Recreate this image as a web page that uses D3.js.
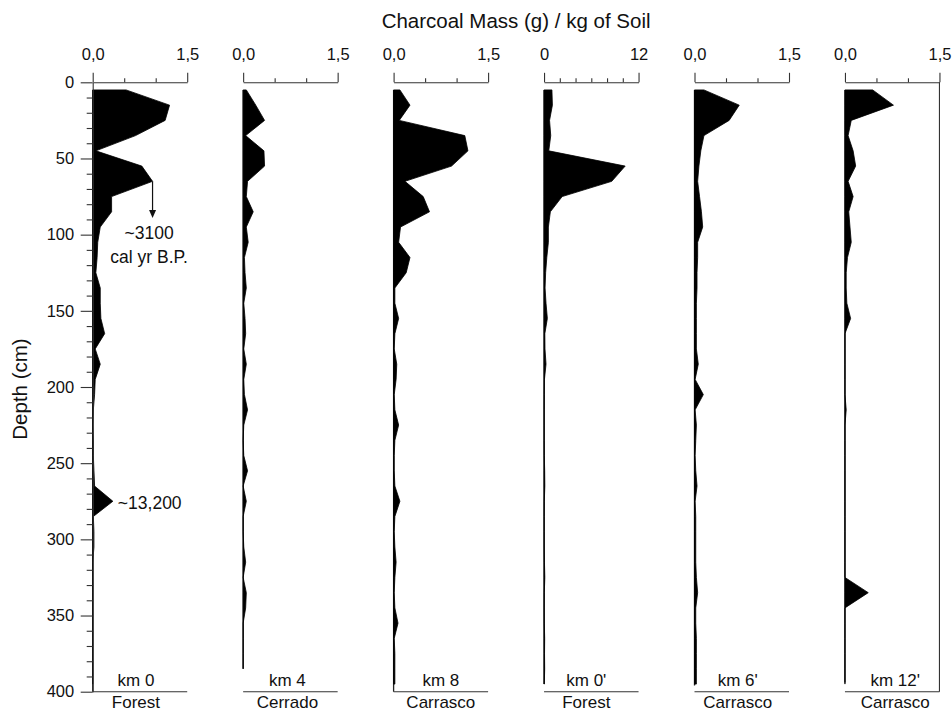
<!DOCTYPE html>
<html>
<head>
<meta charset="utf-8">
<script src="https://cdn.jsdelivr.net/npm/d3@7"></script>
<style>
  body { margin: 0; background: #fff; }
  svg { display: block; font-family: "Liberation Sans", Arial, sans-serif; }
</style>
</head>
<body>
<svg id="chart" width="952" height="711"></svg>
<script>
// Sample mid-depths (cm) of the 10 cm soil intervals
const sampleDepth = [5, 15, 25, 35, 45, 55, 65, 75, 85, 95,
  105, 115, 125, 135, 145, 155, 165, 175, 185, 195,
  205, 215, 225, 235, 245, 255, 265, 275, 285, 295,
  305, 315, 325, 335, 345, 355, 365, 375, 385, 395];

// Charcoal mass (g per kg of soil) for each core, top to bottom
const km0Forest = [0.53, 1.22, 1.15, 0.68, 0.05, 0.78, 0.95, 0.30, 0.30, 0.12,
  0.08, 0.07, 0.05, 0.12, 0.12, 0.13, 0.19, 0.04, 0.12, 0.04,
  0.03, 0.01, 0.00, 0.01, 0.01, 0.02, 0.03, 0.32, 0.01, 0.02,
  0.02, 0.00, 0.00, 0.00, 0.00, 0.00, 0.00, 0.00, 0.00, 0.00];
const km4Cerrado = [0.05, 0.20, 0.34, 0.04, 0.33, 0.34, 0.07, 0.05, 0.16, 0.05,
  0.08, 0.02, 0.03, 0.05, 0.01, 0.03, 0.04, 0.01, 0.05, 0.01,
  0.02, 0.07, 0.01, 0.00, 0.01, 0.07, 0.00, 0.05, 0.00, 0.00,
  0.01, 0.04, 0.00, 0.05, 0.04, 0.00, 0.00, 0.00, 0.00];
const km8Carrasco = [0.10, 0.26, 0.09, 1.13, 1.18, 0.92, 0.18, 0.47, 0.57, 0.11,
  0.08, 0.26, 0.20, 0.02, 0.02, 0.08, 0.02, 0.01, 0.05, 0.04,
  0.01, 0.02, 0.08, 0.02, 0.01, 0.01, 0.02, 0.10, 0.02, 0.01,
  0.02, 0.04, 0.02, 0.01, 0.02, 0.07, 0.01, 0.02, 0.02, 0.02];
const km0pForest = [1.00, 1.06, 0.70, 0.85, 0.60, 10.3, 8.6, 2.3, 0.80, 0.55,
  0.55, 0.35, 0.20, 0.13, 0.25, 0.42, 0.10, 0.12, 0.25, 0.05,
  0.03, 0.02, 0.02, 0.02, 0.03, 0.08, 0.10, 0.03, 0.02, 0.02,
  0.02, 0.05, 0.10, 0.03, 0.02, 0.03, 0.08, 0.06, 0.08, 0.03];
const km6pCarrasco = [0.15, 0.71, 0.55, 0.15, 0.10, 0.07, 0.05, 0.08, 0.11, 0.13,
  0.05, 0.05, 0.04, 0.04, 0.03, 0.03, 0.03, 0.03, 0.06, 0.01,
  0.14, 0.01, 0.03, 0.02, 0.01, 0.02, 0.04, 0.01, 0.02, 0.02,
  0.02, 0.02, 0.03, 0.05, 0.02, 0.02, 0.03, 0.03, 0.03, 0.03];
const km12pCarrasco = [0.44, 0.77, 0.10, 0.05, 0.13, 0.17, 0.05, 0.13, 0.06, 0.08,
  0.10, 0.04, 0.02, 0.02, 0.03, 0.09, 0.00, 0.00, 0.00, 0.00,
  0.00, 0.02, 0.00, 0.00, 0.00, 0.00, 0.00, 0.00, 0.00, 0.00,
  0.00, 0.00, 0.00, 0.37, 0.00, 0.00, 0.00, 0.00, 0.00, 0.00];

// Site names, vegetation and core bottoms (cm)
const siteLabels = ["km 0", "km 4", "km 8", "km 0'", "km 6'", "km 12'"];
const vegetation = ["Forest", "Cerrado", "Carrasco", "Forest", "Carrasco", "Carrasco"];
const coreBottom = [400, 385, 400, 395, 396, 394];
const seriesValues = [km0Forest, km4Cerrado, km8Carrasco, km0pForest, km6pCarrasco, km12pCarrasco];

// Scale ticks
const massMax = [1.5, 1.5, 1.5, 12, 1.5, 1.5];
const majorTicksSmall = [0, 1.5];
const minorTicksSmall = [0.5, 1.0];
const majorTicksLarge = [0, 12];
const minorTicksLarge = [2, 4, 6, 8, 10];
const depthMajorTicks = [0, 50, 100, 150, 200, 250, 300, 350, 400];
const depthMinorTicks = [10, 20, 30, 40, 60, 70, 80, 90, 110, 120, 130, 140, 160, 170, 180, 190,
  210, 220, 230, 240, 260, 270, 280, 290, 310, 320, 330, 340, 360, 370, 380, 390];

// Dated horizons
const dateAnnotations = [
  { core: 0, depth: 65, value: 0.95, lines: ["~3100", "cal yr B.P."], arrowTo: 89 },
  { core: 0, depth: 275, value: 0.32, lines: ["~13,200"] }
];

// ---- layout ----
const W = 952, H = 711;
const plotLeft = 92.7, panelStep = 150.45, panelW = 94.5;
const yTop = 82.3, yBottom = 691.7;
const ink = "#111", axisInk = "#333";

const svg = d3.select("#chart");
const y = d3.scaleLinear().domain([0, 400]).range([yTop, yBottom]);

const commaLocale = d3.formatLocale({ decimal: ",", thousands: ".", grouping: [3], currency: ["", ""] });
const fmtSmall = commaLocale.format(".1f");
const fmtLarge = d3.format("d");

function styleAxis(g, fontSize) {
  g.attr("font-family", null).attr("font-size", null);
  g.selectAll("path, line").attr("stroke", axisInk).attr("stroke-width", 1.1);
  g.selectAll("text").attr("fill", ink).style("font-size", fontSize + "px");
}

const labelShift = [-4, -3, 0, -5, -4, 3];
const panels = seriesValues.map((vals, i) => {
  const x0 = plotLeft + i * panelStep;
  const x = d3.scaleLinear().domain([0, massMax[i]]).range([x0, x0 + panelW]);
  return { i, x0, x, vals };
});

panels.forEach(p => {
  const { i, x0, x, vals } = p;
  const g = svg.append("g");
  const data = vals.map((v, k) => ({ d: sampleDepth[k], v }));

  // core baseline
  g.append("line")
    .attr("x1", x(0)).attr("x2", x(0))
    .attr("y1", y(sampleDepth[0])).attr("y2", y(coreBottom[i]))
    .attr("stroke", "#222").attr("stroke-width", 1.3);

  // silhouette
  const area = d3.area()
    .x0(x(0))
    .x1(d => x(d.v))
    .y(d => y(d.d))
    .curve(d3.curveLinear);
  g.append("path").datum(data)
    .attr("d", area)
    .attr("fill", "#000")
    .attr("stroke", "#000")
    .attr("stroke-width", 0.8)
    .attr("stroke-linejoin", "round");

  // top mass axis
  const large = massMax[i] > 2;
  const minorAxis = d3.axisTop(x)
    .tickValues(large ? minorTicksLarge : minorTicksSmall)
    .tickSize(4).tickSizeOuter(0).tickFormat("");
  const majorAxis = d3.axisTop(x)
    .tickValues(large ? majorTicksLarge : majorTicksSmall)
    .tickSize(9.5).tickPadding(13)
    .tickFormat(large ? fmtLarge : fmtSmall);
  const ga = svg.append("g").attr("transform", `translate(0,${yTop})`);
  ga.append("g").call(minorAxis).call(s => styleAxis(s, 16.5));
  ga.append("g").call(majorAxis).call(s => { s.select(".domain").remove(); styleAxis(s, 16.5); });

  // bottom rule
  g.append("line")
    .attr("x1", x0).attr("x2", x0 + panelW)
    .attr("y1", yBottom).attr("y2", yBottom)
    .attr("stroke", axisInk).attr("stroke-width", 1.1);

  // site and vegetation labels
  const cx = x0 + panelW / 2 + labelShift[i];
  g.append("text").attr("x", cx).attr("y", 685.7)
    .attr("text-anchor", "middle").attr("fill", ink)
    .style("font-size", "17px").text(siteLabels[i]);
  g.append("text").attr("x", cx).attr("y", 708.3)
    .attr("text-anchor", "middle").attr("fill", ink)
    .style("font-size", "17px").text(vegetation[i]);
});

// right frame of the last panel
const lastX = panels[panels.length - 1].x0 + panelW;
svg.append("line")
  .attr("x1", lastX).attr("x2", lastX)
  .attr("y1", yTop).attr("y2", yBottom)
  .attr("stroke", axisInk).attr("stroke-width", 1.1);

// depth axis
const gy = svg.append("g").attr("transform", `translate(${plotLeft},0)`);
gy.append("g").call(d3.axisLeft(y).tickValues(depthMinorTicks).tickSize(6).tickSizeOuter(0).tickFormat(""))
  .call(s => styleAxis(s, 16.5));
gy.append("g").call(d3.axisLeft(y).tickValues(depthMajorTicks).tickSize(12).tickPadding(6.5).tickFormat(d3.format("d")))
  .call(s => { s.select(".domain").remove(); styleAxis(s, 16.5); });

// axis titles
svg.append("text")
  .attr("x", (plotLeft + lastX) / 2).attr("y", 28.3)
  .attr("text-anchor", "middle").attr("fill", ink)
  .style("font-size", "20.5px")
  .text("Charcoal Mass (g) / kg of Soil");
svg.append("text")
  .attr("transform", `translate(26.5,389) rotate(-90)`)
  .attr("text-anchor", "middle").attr("fill", ink)
  .style("font-size", "20.5px")
  .text("Depth (cm)");

// radiocarbon dates
dateAnnotations.forEach(a => {
  const p = panels[a.core];
  const px = p.x(a.value), py = y(a.depth);
  if (a.arrowTo !== undefined) {
    const ty = y(a.arrowTo);
    svg.append("line")
      .attr("x1", px).attr("x2", px).attr("y1", py).attr("y2", ty - 6)
      .attr("stroke", "#111").attr("stroke-width", 1.2);
    svg.append("path")
      .attr("d", `M${px - 3.5},${ty - 8} L${px + 3.5},${ty - 8} L${px},${ty} Z`)
      .attr("fill", "#111");
    a.lines.forEach((t, k) => {
      svg.append("text")
        .attr("x", px - 3.5).attr("y", ty + 21.3 + k * 23.4)
        .attr("text-anchor", "middle").attr("fill", ink)
        .style("font-size", "17.5px").text(t);
    });
  } else {
    svg.append("text")
      .attr("x", px + 5).attr("y", py + 7.6)
      .attr("fill", ink).style("font-size", "17.5px")
      .text(a.lines[0]);
  }
});
</script>
</body>
</html>
